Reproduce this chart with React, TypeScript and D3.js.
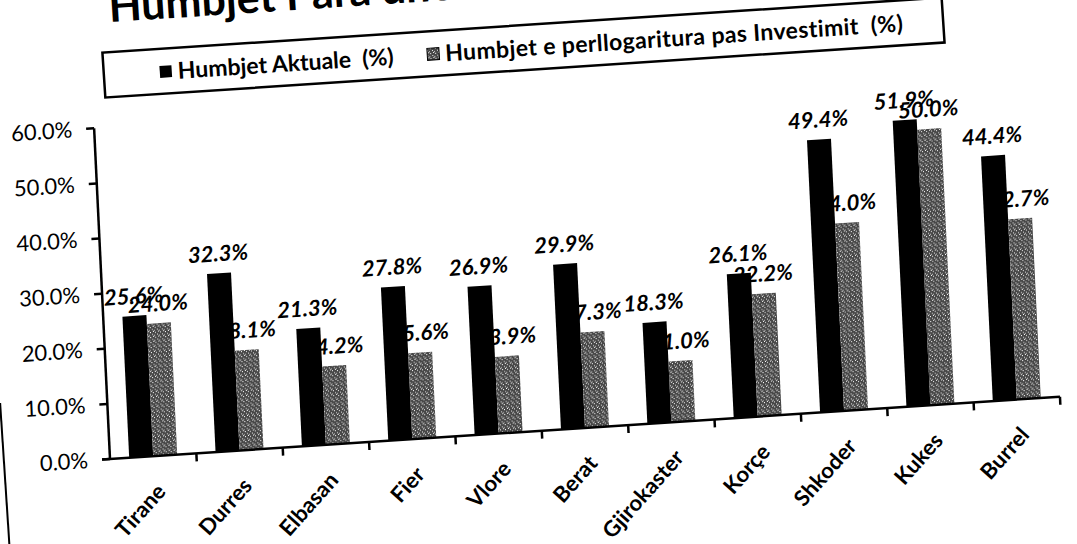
import React from "react";
import * as d3 from "d3";

const categories = ["Tirane", "Durres", "Elbasan", "Fier", "Vlore", "Berat", "Gjirokaster", "Korçe", "Shkoder", "Kukes", "Burrel"];
const actual = [25.6, 32.3, 21.3, 27.8, 26.9, 29.9, 18.3, 26.1, 49.4, 51.9, 44.4];
const afterInvestment = [24.0, 18.1, 14.2, 15.6, 13.9, 17.3, 11.0, 22.2, 34.0, 50.0, 32.7];
const seriesNames = ["Humbjet Aktuale\u00a0 (%)", "Humbjet e perllogaritura pas Investimit\u00a0 (%)"];
const yTicks = [0, 10, 20, 30, 40, 50, 60];
const title = "Humbjet Para dhe Pas Investimit";

const W = 1077;
const H = 544;
const ox = 110;
const oy = 459;
const xEnd = 1062;
const yTop = 128;
const ANGLE = -3.75;
const FONT = "Lato, 'Open Sans', sans-serif";

export default function App() {
  const x = d3.scaleBand<string>().domain(categories).range([ox, xEnd]);
  const sub = d3.scaleBand<number>().domain([0, 1]).range([0, x.bandwidth()]).paddingInner(0).paddingOuter(0.8);
  const y = d3.scaleLinear().domain([0, 60]).range([oy, yTop]);
  const fmt = d3.format(".1f");
  const series = [actual, afterInvestment];
  const fills = ["#000", "url(#speckle)"];

  return (
    <svg width={W} height={H} style={{ position: "absolute", left: 0, top: 0, background: "#fff" }}>
      <defs>
        <pattern id="speckle" width="5" height="5" patternUnits="userSpaceOnUse">
          <rect width="5" height="5" fill="#474747" />
          <rect x="1" y="0" width="1" height="1" fill="#fff" />
          <rect x="3" y="2" width="1" height="1" fill="#eee" />
          <rect x="0" y="3" width="1" height="1" fill="#ccc" />
          <rect x="4" y="4" width="1" height="1" fill="#fff" />
        </pattern>
      </defs>
      <g transform={`rotate(${ANGLE}, ${ox}, ${oy})`}>
        {/* title */}
        <text x={138} y={23} fontFamily={FONT} fontWeight="bold" fontSize={43} fill="#000">{title}</text>

        {/* legend */}
        <rect x={129} y={53} width={841} height={45} fill="#fff" stroke="#000" strokeWidth={2.5} />
        <rect x={185} y={70} width={12} height={12} fill="#000" />
        <text x={203} y={76} dy="0.35em" fontFamily={FONT} fontWeight="bold" fontSize={23}>{seriesNames[0]}</text>
        <rect x={453} y={70} width={12} height={12} fill="url(#speckle)" stroke="#000" strokeWidth={1} />
        <text x={471} y={76} dy="0.35em" fontFamily={FONT} fontWeight="bold" fontSize={23} letterSpacing={0.4}>{seriesNames[1]}</text>

        {/* left border of chart area */}
        <line x1={4} x2={4} y1={396} y2={570} stroke="#000" strokeWidth={2} />

        <g transform={`translate(${ox},${oy}) skewX(-1) translate(${-ox},${-oy})`}>
          {/* data labels (drawn under the bars) */}
          {series.map((vals, s) =>
            vals.map((v, i) => (
              <text
                key={`l${s}-${i}`}
                x={(x(categories[i]) ?? 0) + (sub(s) ?? 0) + sub.bandwidth() / 2}
                y={y(v) - 12}
                textAnchor="middle"
                fontFamily={FONT}
                fontWeight="bold"
                fontStyle="italic"
                fontSize={22}
                fill="#000"
              >
                {fmt(v)}%
              </text>
            ))
          )}

          {/* bars */}
          {series.map((vals, s) =>
            vals.map((v, i) => (
              <rect
                key={`b${s}-${i}`}
                x={(x(categories[i]) ?? 0) + (sub(s) ?? 0)}
                y={y(v)}
                width={sub.bandwidth()}
                height={oy - y(v)}
                fill={fills[s]}
              />
            ))
          )}

          {/* y axis */}
          <line x1={ox} x2={ox} y1={oy} y2={yTop} stroke="#000" strokeWidth={2.5} />
          {yTicks.map((t) => (
            <g key={`yt${t}`}>
              <line x1={ox - 8} x2={ox} y1={y(t)} y2={y(t)} stroke="#000" strokeWidth={2.5} />
              <text x={ox - 22} y={y(t)} dy="0.35em" textAnchor="end" fontFamily={FONT} fontSize={22} fill="#000">
                {fmt(t)}%
              </text>
            </g>
          ))}

          {/* x axis */}
          <line x1={ox - 8} x2={xEnd} y1={oy} y2={oy} stroke="#000" strokeWidth={2.5} />
          {categories.map((c, i) => (
            <line key={`xt${i}`} x1={(x(c) ?? 0) + x.bandwidth()} x2={(x(c) ?? 0) + x.bandwidth()} y1={oy} y2={oy + 8} stroke="#000" strokeWidth={2.5} />
          ))}
          {categories.map((c) => {
            const cx = (x(c) ?? 0) + x.bandwidth() / 2 + 12;
            const cy = oy + 37;
            return (
              <text
                key={`xl${c}`}
                transform={`translate(${cx},${cy}) rotate(-45)`}
                textAnchor="end"
                fontFamily={FONT}
                fontWeight="bold"
                fontSize={22}
                fill="#000"
              >
                {c}
              </text>
            );
          })}
        </g>
      </g>
    </svg>
  );
}
